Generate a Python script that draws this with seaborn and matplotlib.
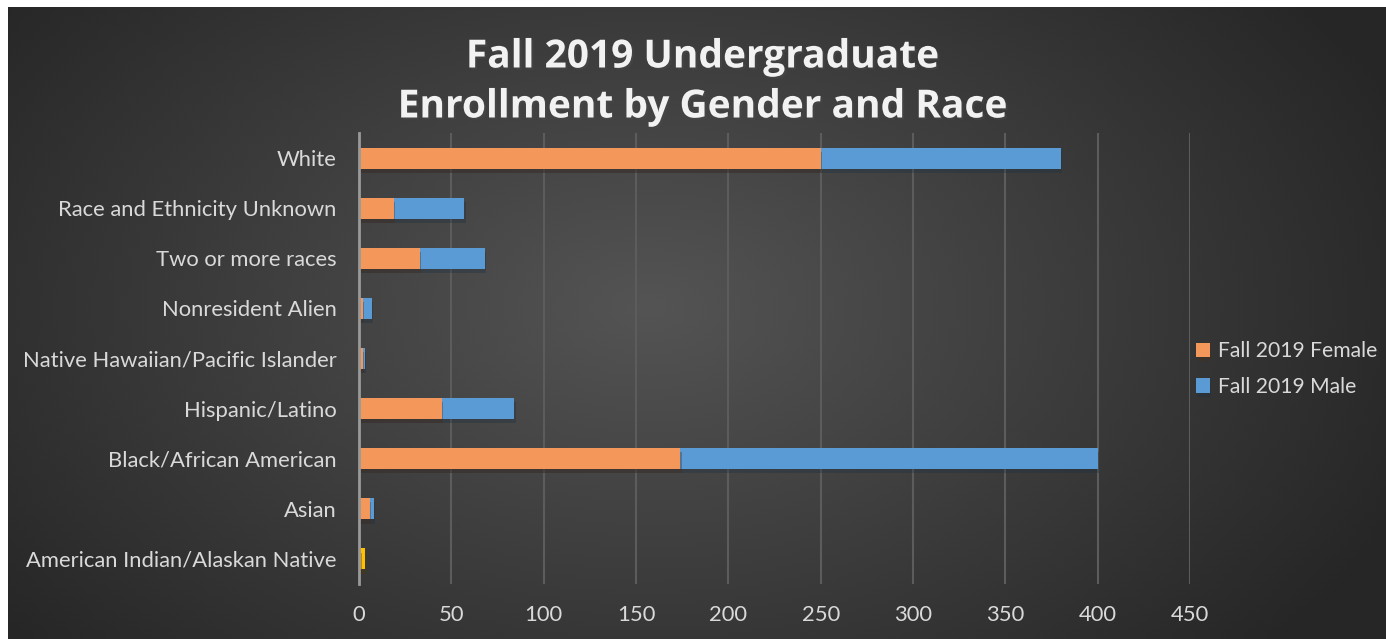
import numpy as np
import matplotlib
matplotlib.use('Agg')
import matplotlib.pyplot as plt
import matplotlib.patheffects as pe
import seaborn as sns
import pandas as pd

# enrollment data (top row first)
categories = ['White', 'Race and Ethnicity Unknown', 'Two or more races',
              'Nonresident Alien', 'Native Hawaiian/Pacific Islander',
              'Hispanic/Latino', 'Black/African American', 'Asian',
              'American Indian/Alaskan Native']
female = [250, 19, 33, 2, 2, 45, 174, 6, 1]
male = [130, 38, 35, 5, 1, 39, 226, 2, 2]
x_ticks = [0, 50, 100, 150, 200, 250, 300, 350, 400, 450]

df = pd.DataFrame({'race': categories, 'female': female, 'male': male})
df['total'] = df['female'] + df['male']

ORANGE = '#f3975a'
BLUE = '#5b9bd5'
YELLOW = '#ffc000'
LABEL = '#d9d9d9'
FS = 15.8

sns.set_theme(style='dark')
plt.rcParams['font.family'] = ['Lato', 'DejaVu Sans']

W, H = 1386, 639
fig = plt.figure(figsize=(W / 100, H / 100), dpi=100)
fig.patch.set_facecolor('white')

# dark radial gradient background of the chart area (ordered dither against banding)
bg = fig.add_axes([8 / W, 0, 1 - 8 / W, 1 - 7 / H])
yy, xx = np.mgrid[0:632, 0:1378]
r = np.sqrt(((xx - 640) / 820) ** 2 + ((yy - 300) / 520) ** 2)
shade = 0.33 - 0.18 * np.clip(r, 0, 1)
bayer = np.array([[0, 8, 2, 10], [12, 4, 14, 6], [3, 11, 1, 9], [15, 7, 13, 5]]) / 16 - 0.5
shade = shade + bayer[yy % 4, xx % 4] / 255
bg.imshow(np.dstack([shade] * 3).clip(0, 1), aspect='auto', interpolation='nearest')
bg.axis('off')

# the bar chart
ax = fig.add_axes([359 / W, 1 - 584 / H, (1190 - 359) / W, (584 - 133) / H])
ax.patch.set_alpha(0)
sns.barplot(data=df, x='total', y='race', color=BLUE, width=0.42, saturation=1,
            errorbar=None, label='Fall 2019 Male', linewidth=0, ax=ax)
sns.barplot(data=df, x='female', y='race', color=ORANGE, width=0.42, saturation=1,
            errorbar=None, label='Fall 2019 Female', linewidth=0, ax=ax)
if ax.get_legend() is not None:
    ax.get_legend().remove()

# the last row shows its second segment in yellow
ax.patches[len(categories) - 1].set_facecolor(YELLOW)

for p in ax.patches:
    p.set_edgecolor('none')
    p.set_path_effects([pe.SimplePatchShadow(offset=(1, -3), alpha=0.35), pe.Normal()])

ax.set_xlim(0, 450)
ax.set_ylim(len(categories) - 0.5, -0.5)
ax.set_xticks(x_ticks)
ax.set_xlabel('')
ax.set_ylabel('')
ax.set_axisbelow(True)
ax.xaxis.grid(True, color='#5c5c5c', lw=1.5)
ax.yaxis.grid(False)
for s in ['top', 'right', 'bottom']:
    ax.spines[s].set_visible(False)
ax.spines['left'].set_color('#9a9a9a')
ax.spines['left'].set_linewidth(2)
ax.tick_params(axis='both', length=0, labelcolor=LABEL, labelsize=FS)
ax.tick_params(axis='y', pad=16)
ax.tick_params(axis='x', pad=15)

# title
for txt, ypix in [('Fall 2019 Undergraduate', 57), ('Enrollment by Gender and Race', 107)]:
    fig.text(702 / W, 1 - ypix / H, txt, ha='center', va='center', color='#f2f2f2',
             fontsize=28, fontweight='bold', family=['Open Sans', 'DejaVu Sans'],
             path_effects=[pe.withSimplePatchShadow(offset=(1.5, -1.5), alpha=0.5)])

handles, labels = ax.get_legend_handles_labels()
fig.legend(handles[::-1], labels[::-1], loc='center left',
           bbox_to_anchor=(1196 / W, 1 - 369 / H), bbox_transform=fig.transFigure,
           frameon=False, fontsize=15.2, labelcolor=LABEL, handlelength=0.65,
           handleheight=0.65, handletextpad=0.4, labelspacing=0.75,
           borderaxespad=0, borderpad=0)

fig.savefig('out.png', dpi=100)
